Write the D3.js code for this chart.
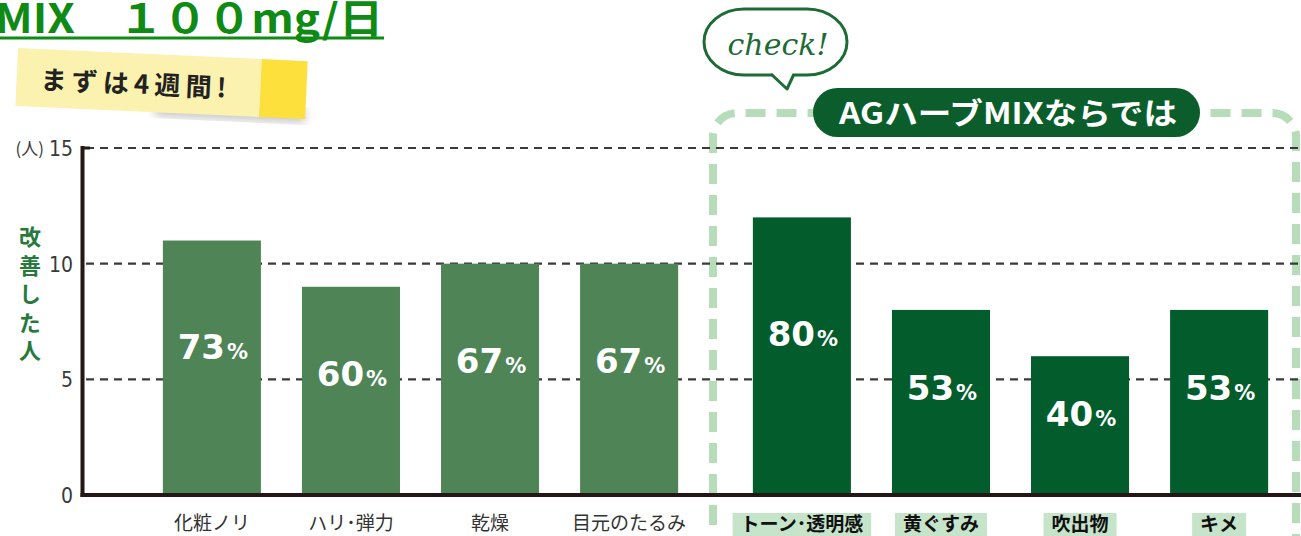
<!DOCTYPE html>
<html>
<head>
<meta charset="utf-8">
<script src="https://cdn.jsdelivr.net/npm/d3@7"></script>
<style>
  body { margin: 0; background: #fff; overflow: hidden; }
  svg { display: block; }
</style>
</head>
<body>
<script>
// items measured before / after 4 weeks
const basicItems = ["化粧ノリ", "ハリ･弾力", "乾燥", "目元のたるみ"];
const basicCounts = [11, 9, 10, 10];
const basicRates = [73, 60, 67, 67];

const mixItems = ["トーン･透明感", "黄ぐすみ", "吹出物", "キメ"];
const mixCounts = [12, 8, 6, 8];
const mixRates = [80, 53, 40, 53];

const yTicks = [0, 5, 10, 15];
const yUnit = "(人)";
const yTitle = "改善した人";
const pageTitle = "MIX　１００mg/日";
const noteText = "まずは4週間!";
const groupTitle = "AGハーブMIXならでは";

const W = 1301, H = 536;
const JP = "'Noto Sans CJK JP', sans-serif";
const axisColor = "#231815";

const svg = d3.select("body").append("svg")
    .attr("width", W)
    .attr("height", H);

const y = d3.scaleLinear().domain([0, 15]).range([495, 148]);

const x1 = d3.scaleBand().domain(basicItems)
    .range([142, 699]).paddingInner(0.295).paddingOuter(0.15);
const x2 = d3.scaleBand().domain(mixItems)
    .range([732, 1289]).paddingInner(0.295).paddingOuter(0.15);

const basic = basicItems.map((k, i) => ({name: k, count: basicCounts[i], rate: basicRates[i]}));
const mix = mixItems.map((k, i) => ({name: k, count: mixCounts[i], rate: mixRates[i]}));

// title (cut off at top of page, as in the source)
svg.append("text")
    .attr("x", -5)
    .attr("y", 33)
    .attr("font-family", JP)
    .attr("font-weight", 700)
    .attr("font-size", 40)
    .attr("fill", "#0f8a14")
    .attr("textLength", 388)
    .attr("lengthAdjust", "spacingAndGlyphs")
    .text(pageTitle);
svg.append("line")
    .attr("x1", 0).attr("x2", 384)
    .attr("y1", 38).attr("y2", 38)
    .attr("stroke", "#0f8a14")
    .attr("stroke-width", 3);

// sticky note
const defs = svg.append("defs");
defs.append("filter").attr("id", "blur")
    .append("feGaussianBlur").attr("stdDeviation", 5);

const note = svg.append("g").attr("transform", "translate(18,48) rotate(2.6)");
note.append("rect")
    .attr("x", 140).attr("y", 48).attr("width", 150).attr("height", 14)
    .attr("fill", "#c8c8c8")
    .attr("filter", "url(#blur)");
note.append("rect")
    .attr("x", 0).attr("y", 0).attr("width", 244).attr("height", 58)
    .attr("fill", "#fcf2b0");
note.append("rect")
    .attr("x", 244).attr("y", 0).attr("width", 46).attr("height", 58)
    .attr("fill", "#fde03c");
note.append("text")
    .attr("x", 24).attr("y", 40)
    .attr("font-family", JP)
    .attr("font-weight", 700)
    .attr("font-size", 26)
    .attr("fill", "#222")
    .attr("textLength", 186)
    .text(noteText);

// green dashed frame around the MIX group
const r = 24, fx0 = 713, fx1 = 1296, fy = 113;
const frame = d3.path();
frame.moveTo(fx0, H + 20);
frame.lineTo(fx0, fy + r);
frame.arcTo(fx0, fy, fx0 + r, fy, r);
frame.lineTo(fx1 - r, fy);
frame.arcTo(fx1, fy, fx1, fy + r, r);
frame.lineTo(fx1, H + 20);
svg.append("path")
    .attr("d", frame.toString())
    .attr("fill", "none")
    .attr("stroke", "#b6dcba")
    .attr("stroke-width", 8)
    .attr("stroke-dasharray", "20 11");

// gridlines
svg.append("g").selectAll("line")
    .data(yTicks.filter(d => d > 0))
    .join("line")
    .attr("x1", 86).attr("x2", W)
    .attr("y1", d => y(d)).attr("y2", d => y(d))
    .attr("stroke", "#3a3a3a")
    .attr("stroke-width", 2.2)
    .attr("stroke-dasharray", "8 6");

// bars
svg.append("g").selectAll("rect")
    .data(basic)
    .join("rect")
    .attr("x", d => x1(d.name))
    .attr("y", d => y(d.count))
    .attr("width", x1.bandwidth())
    .attr("height", d => y(0) - y(d.count))
    .attr("fill", "#4e8456");
svg.append("g").selectAll("rect")
    .data(mix)
    .join("rect")
    .attr("x", d => x2(d.name))
    .attr("y", d => y(d.count))
    .attr("width", x2.bandwidth())
    .attr("height", d => y(0) - y(d.count))
    .attr("fill", "#035c2c");

// percentage labels inside bars
function rateLabels(data, x) {
    const t = svg.append("g").selectAll("text")
        .data(data)
        .join("text")
        .attr("x", d => x(d.name) + x.bandwidth() / 2 + 1)
        .attr("y", d => y(d.count * 0.58) + 12)
        .attr("text-anchor", "middle")
        .attr("font-family", "'DejaVu Sans', sans-serif")
        .attr("font-weight", 700)
        .attr("fill", "#fff");
    t.append("tspan").attr("font-size", 34).text(d => d.rate);
    t.append("tspan").attr("font-size", 21).attr("dx", 2).text("%");
}
rateLabels(basic, x1);
rateLabels(mix, x2);

// axes
svg.append("line")
    .attr("x1", 82.5).attr("x2", 82.5)
    .attr("y1", y(15) - 2).attr("y2", y(0) + 2)
    .attr("stroke", axisColor).attr("stroke-width", 4);
svg.append("line")
    .attr("x1", 80.5).attr("x2", W)
    .attr("y1", y(0)).attr("y2", y(0))
    .attr("stroke", axisColor).attr("stroke-width", 4);
svg.append("line")
    .attr("x1", 82).attr("x2", 90)
    .attr("y1", y(15)).attr("y2", y(15))
    .attr("stroke", axisColor).attr("stroke-width", 3);

const yAxis = d3.axisLeft(y).tickValues(yTicks).tickSize(0).tickPadding(10);
const ya = svg.append("g").attr("transform", "translate(83,0)").call(yAxis);
ya.select(".domain").remove();
ya.selectAll("text")
    .attr("font-family", "'DejaVu Sans', sans-serif")
    .attr("font-stretch", "condensed")
    .attr("font-size", 21)
    .attr("fill", "#3a3a3a")
    .attr("dy", "0.36em");

svg.append("text")
    .attr("x", 44).attr("y", y(15) + 7)
    .attr("text-anchor", "end")
    .attr("font-family", JP)
    .attr("font-size", 17)
    .attr("fill", "#3a3a3a")
    .text(yUnit);

// vertical axis title
svg.append("text")
    .attr("x", 30).attr("y", 226)
    .attr("writing-mode", "vertical-rl")
    .attr("font-family", JP)
    .attr("font-weight", 700)
    .attr("font-size", 22)
    .attr("letter-spacing", 6.5)
    .attr("fill", "#27793c")
    .text(yTitle);

// category labels
svg.append("g").selectAll("text")
    .data(basicItems)
    .join("text")
    .attr("x", d => x1(d) + x1.bandwidth() / 2)
    .attr("y", 530)
    .attr("text-anchor", "middle")
    .attr("font-family", JP)
    .attr("font-size", 19)
    .attr("fill", "#333")
    .text(d => d);

const mixLabels = svg.append("g").selectAll("g")
    .data(mixItems)
    .join("g");
mixLabels.append("text")
    .attr("x", d => x2(d) + x2.bandwidth() / 2)
    .attr("y", 531)
    .attr("text-anchor", "middle")
    .attr("font-family", JP)
    .attr("font-weight", 700)
    .attr("font-size", 19)
    .attr("fill", "#111")
    .text(d => d);
mixLabels.each(function () {
    const g = d3.select(this);
    const b = g.select("text").node().getBBox();
    g.insert("rect", "text")
        .attr("x", b.x - 8).attr("y", 513)
        .attr("width", b.width + 16).attr("height", 30)
        .attr("fill", "#c6e4c9");
});

// group title pill
svg.append("rect")
    .attr("x", 813).attr("y", 88)
    .attr("width", 387).attr("height", 49)
    .attr("rx", 24.5)
    .attr("fill", "#0b5e2c");
svg.append("text")
    .attr("x", 1008).attr("y", 124)
    .attr("text-anchor", "middle")
    .attr("font-family", JP)
    .attr("font-weight", 700)
    .attr("font-size", 30)
    .attr("fill", "#fff")
    .attr("textLength", 338)
    .attr("lengthAdjust", "spacingAndGlyphs")
    .text(groupTitle);

// "check!" speech bubble
const bubbleColor = "#1d6b35";
svg.append("rect")
    .attr("x", 704).attr("y", 9)
    .attr("width", 143).attr("height", 66)
    .attr("rx", 40).attr("ry", 33)
    .attr("fill", "#fff")
    .attr("stroke", bubbleColor)
    .attr("stroke-width", 3);
svg.append("path")
    .attr("d", "M771,72 L787,89 L794,72 Z")
    .attr("fill", "#fff");
svg.append("path")
    .attr("d", "M771,74 L787,89 L794,74")
    .attr("fill", "none")
    .attr("stroke", bubbleColor)
    .attr("stroke-width", 3)
    .attr("stroke-linejoin", "round");
svg.append("text")
    .attr("x", 778).attr("y", 55)
    .attr("text-anchor", "middle")
    .attr("font-family", "'DejaVu Serif', serif")
    .attr("font-style", "italic")
    .attr("font-size", 30)
    .attr("fill", bubbleColor)
    .text("check!");
</script>
</body>
</html>
